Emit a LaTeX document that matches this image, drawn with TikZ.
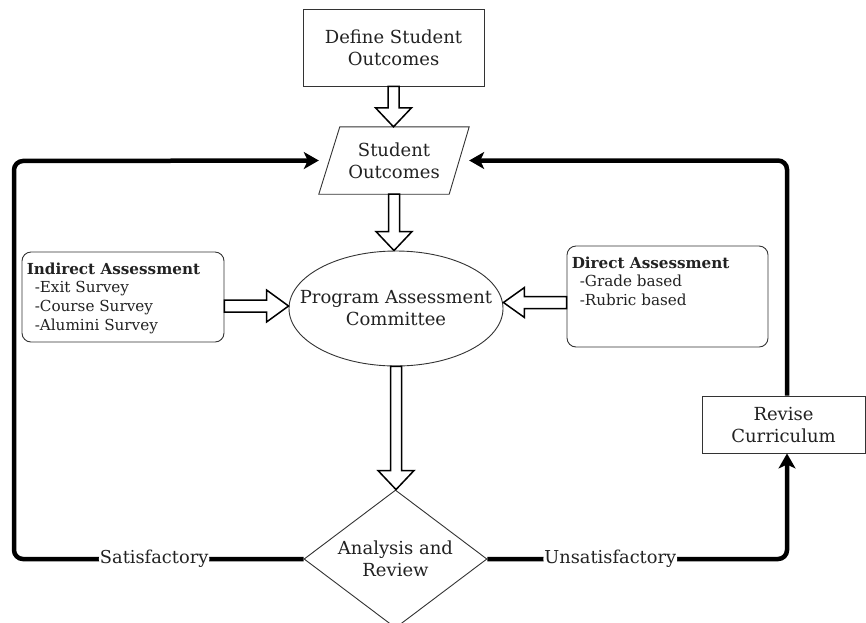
\documentclass[tikz,border=0pt]{standalone}
\usepackage{fontspec}
\setmainfont{DejaVu Serif}
\usetikzlibrary{shapes.geometric,arrows.meta,calc}
\definecolor{txt}{HTML}{222222}
\definecolor{edge}{HTML}{333333}
\tikzset{
  box/.style={draw=edge,line width=0.9pt,rectangle,inner sep=0pt,align=center,text=txt,font=\fontsize{18}{22}\selectfont},
  plaintext/.style={inner sep=0pt,align=center,text=txt,font=\fontsize{18}{22}\selectfont},
  rbox/.style={draw=edge,line width=0.9pt,rectangle,rounded corners=9pt,inner sep=0pt},
  listtext/.style={anchor=north west,align=left,inner sep=0pt,text=txt,font=\fontsize{15.2}{19}\selectfont},
  hollow/.style={draw=black,line width=1.5pt,fill=white,line join=miter},
  loopline/.style={draw=black,line width=4.5pt,rounded corners=9pt},
  looptip/.style={-{Stealth[length=15pt,width=17pt,inset=4pt]}},
  onlabel/.style={fill=white,inner sep=1pt,text=txt,font=\fontsize{17.8}{20}\selectfont}
}
\newcommand\hollowdown[2]{\draw[hollow] let \p1=#1, \p2=#2 in
  (\x1-5.5pt,\y1) -- (\x1-5.5pt,\y2+19pt) -- (\x1-18pt,\y2+19pt) -- (\x1,\y2)
  -- (\x1+18pt,\y2+19pt) -- (\x1+5.5pt,\y2+19pt) -- (\x1+5.5pt,\y1) -- cycle;}
\newcommand\hollowright[2]{\draw[hollow] let \p1=#1, \p2=#2 in
  (\x1,\y1+6pt) -- (\x2-22pt,\y1+6pt) -- (\x2-22pt,\y1+16pt) -- (\x2,\y1)
  -- (\x2-22pt,\y1-16pt) -- (\x2-22pt,\y1-6pt) -- (\x1,\y1-6pt) -- cycle;}
\newcommand\hollowleft[2]{\draw[hollow] let \p1=#1, \p2=#2 in
  (\x1,\y1+6pt) -- (\x2+21pt,\y1+6pt) -- (\x2+21pt,\y1+15pt) -- (\x2,\y1)
  -- (\x2+21pt,\y1-15pt) -- (\x2+21pt,\y1-6pt) -- (\x1,\y1-6pt) -- cycle;}
\begin{document}
\begin{tikzpicture}[x=1pt,y=-1pt]
\path[use as bounding box] (0,0) rectangle (866,622);
\clip (0,0) rectangle (866,622);
\fill[white] (0,0) rectangle (866,622);

% nodes
\node[box,minimum width=181pt,minimum height=77pt] (def) at (393.5,47.5) {Define Student\\Outcomes};
\node[plaintext,minimum width=150pt,minimum height=67pt] (so) at (394,160.5) {Student\\Outcomes};
\draw[draw=edge,line width=0.9pt] (so.south west) -- ($(so.south east)+(-20,0)$) -- (so.north east) -- ($(so.north west)+(21,0)$) -- cycle;
\node[draw=edge,line width=0.9pt,ellipse,inner sep=0pt,minimum width=214pt,minimum height=115pt] (pac) at (396,308.5) {};
\node[plaintext] (pact) at (pac.center) {Program Assessment\\Committee};
\node[draw=edge,line width=0.9pt,diamond,inner sep=0pt,minimum width=183pt,minimum height=138pt] (ar) at (395.5,559) {};
\node[plaintext] (art) at (ar.center) {Analysis and\\Review};
\node[box,minimum width=163pt,minimum height=57pt] (rc) at (783.5,424.5) {Revise\\Curriculum};

\node[rbox,minimum width=202pt,minimum height=90pt] (ind) at (123,297) {};
\node[listtext] (indt) at ($(ind.north west)+(5,11)$) {\textbf{Indirect Assessment}\\[-1pt]\hspace{8pt}-Exit Survey\\\hspace{8pt}-Course Survey\\\hspace{8pt}-Alumini Survey};
\node[rbox,minimum width=201pt,minimum height=101pt] (dir) at (667.5,296.5) {};
\node[listtext] (dirt) at ($(dir.north west)+(5,11)$) {\textbf{Direct Assessment}\\[-1pt]\hspace{8pt}-Grade based\\\hspace{8pt}-Rubric based};

% hollow arrows
\hollowdown{(def.south)}{(so.north)}
\hollowdown{(so.south)}{(pac.north)}
\hollowdown{(pac.south)}{(ar.north)}
\hollowright{($(ind.east)+(0,9)$)}{(pac.west)}
\hollowleft{($(dir.west)+(0,6)$)}{(pac.east)}

% loop
\coordinate (L) at (14,161);
\coordinate (R) at (787,161);
\draw[loopline,looptip] (ar.west) -| node[onlabel,pos=0.258]{Satisfactory} (L) -- (so.west);
\draw[loopline,looptip] (rc.north -| R) |- (so.east);
\draw[loopline,looptip] (ar.east) -| node[onlabel,pos=0.205]{Unsatisfactory} (rc.south -| R);
\end{tikzpicture}
\end{document}
